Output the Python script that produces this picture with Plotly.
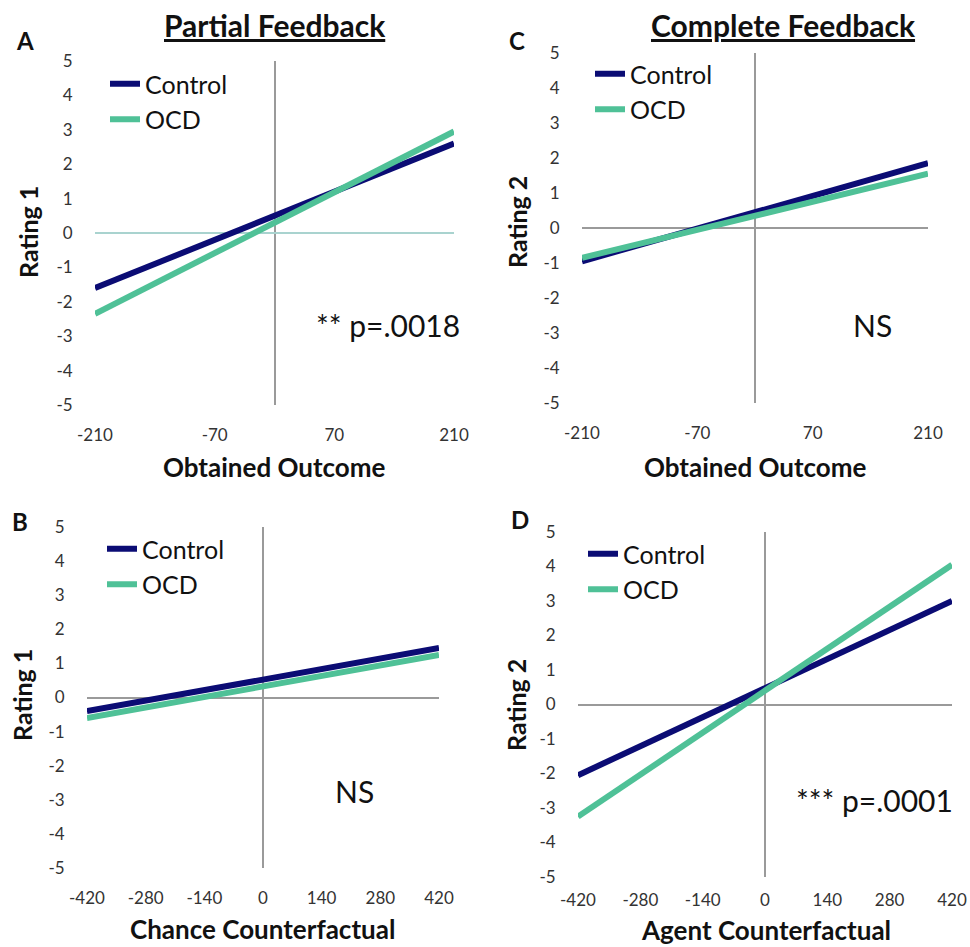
import plotly.graph_objects as go

# ---- data ----
x_outcome = [-210, 210]
x_counter = [-420, 420]
a_control = [-1.6, 2.6]
a_ocd = [-2.35, 2.95]
c_control = [-0.95, 1.85]
c_ocd = [-0.85, 1.55]
b_control = [-0.4, 1.45]
b_ocd = [-0.6, 1.25]
d_control = [-2.05, 3.0]
d_ocd = [-3.25, 4.05]

y_ticks = [-5, -4, -3, -2, -1, 0, 1, 2, 3, 4, 5]
y_ticktext = ["-5", "-4", "-3", "-2", "-1", "0", "1", "2", "3", "4", "5"]
x_outcome_ticks = [-210, -70, 70, 210]
x_outcome_text = ["-210", "-70", "70", "210"]
x_counter_ticks = [-420, -280, -140, 0, 140, 280, 420]
x_counter_text = ["-420", "-280", "-140", "0", "140", "280", "420"]

W, H = 970, 947
NAVY = "#0b0c74"
TEAL = "#4fc197"
FONT = "Lato"

def dx(l, r):
    return [l / W, r / W]

def dy(top, bottom):
    return [1 - bottom / H, 1 - top / H]

fig = go.Figure()

panels = [
    ("", x_outcome, a_control, a_ocd, "legend"),
    ("2", x_outcome, c_control, c_ocd, "legend2"),
    ("3", x_counter, b_control, b_ocd, "legend3"),
    ("4", x_counter, d_control, d_ocd, "legend4"),
]

for suf, xd, ctl, ocd, leg in panels:
    fig.add_trace(go.Scatter(x=xd, y=ctl, mode="lines", name="Control",
                             line=dict(color=NAVY, width=6),
                             xaxis="x" + suf, yaxis="y" + suf, legend=leg))
    fig.add_trace(go.Scatter(x=xd, y=ocd, mode="lines", name="OCD",
                             line=dict(color=TEAL, width=6),
                             xaxis="x" + suf, yaxis="y" + suf, legend=leg))

# l, r, top, bottom, x range, ticks, ticktext, zero-line colour, x ticklen
geom = {
    "": (95, 454, 61, 405, x_outcome, x_outcome_ticks, x_outcome_text, "#a9d3cf", 15),
    "2": (582, 928, 53, 403, x_outcome, x_outcome_ticks, x_outcome_text, "#9a9a9a", 15),
    "3": (87, 439, 527, 868, x_counter, x_counter_ticks, x_counter_text, "#9a9a9a", 15),
    "4": (578, 952, 532, 877, x_counter, x_counter_ticks, x_counter_text, "#9a9a9a", 8),
}

layout = {}
for suf, (l, r, t, b, xd, xt, xtt, hcol, xtl) in geom.items():
    layout["xaxis" + suf] = dict(
        domain=dx(l, r), range=[xd[0], xd[1]], anchor="y" + suf,
        tickvals=xt, ticktext=xtt, showgrid=False, showline=False,
        zeroline=True, zerolinecolor="#9a9a9a", zerolinewidth=1.5,
        ticks="outside", ticklen=xtl, tickcolor="rgba(0,0,0,0)",
        tickfont=dict(family=FONT, size=17, color="#333333"),
        automargin=False,
    )
    layout["yaxis" + suf] = dict(
        domain=dy(t, b), range=[-5, 5], anchor="x" + suf,
        tickvals=y_ticks, ticktext=y_ticktext, showgrid=False, showline=False,
        zeroline=True, zerolinecolor=hcol, zerolinewidth=1.5,
        ticks="outside", ticklen=18, tickcolor="rgba(0,0,0,0)",
        tickfont=dict(family=FONT, size=17, color="#333333"),
        automargin=False,
    )

leg_pos = {
    "legend": (105, 61),
    "legend2": (590, 51),
    "legend3": (102, 526),
    "legend4": (583, 531),
}
for k, (px, py) in leg_pos.items():
    layout[k] = dict(x=px / W, y=1 - py / H, xanchor="left", yanchor="top",
                     bgcolor="rgba(0,0,0,0)", borderwidth=0,
                     font=dict(family=FONT, size=25, color="#111111"),
                     tracegroupgap=0, itemwidth=30)

fig.update_layout(template="none", width=W, height=H,
                  margin=dict(l=0, r=0, t=0, b=0, autoexpand=False),
                  paper_bgcolor="white", plot_bgcolor="white",
                  showlegend=True, **layout)

def ann(text, x, y, size, bold=False, angle=0, color="#111111"):
    if bold:
        text = "<b>" + text + "</b>"
    fig.add_annotation(text=text, x=x / W, y=1 - y / H, xref="paper", yref="paper",
                       showarrow=False, xanchor="center", yanchor="middle",
                       textangle=angle,
                       font=dict(family=FONT, size=size, color=color))

ann("A", 25, 41, 24, bold=True)
ann("C", 517, 41, 24, bold=True)
ann("B", 20, 521, 24, bold=True)
ann("D", 520, 519, 24, bold=True)
ann("<u>Partial Feedback</u>", 275, 25, 30, bold=True)
ann("<u>Complete Feedback</u>", 783, 25, 30, bold=True)
ann("Obtained Outcome", 274, 467, 26, bold=True)
ann("Obtained Outcome", 755, 467, 26, bold=True)
ann("Chance Counterfactual", 262, 929, 26, bold=True)
ann("Agent Counterfactual", 766, 930, 26, bold=True)
ann("Rating 1", 28, 232, 25, bold=True, angle=-90)
ann("Rating 2", 517, 222, 25, bold=True, angle=-90)
ann("Rating 1", 22, 695, 25, bold=True, angle=-90)
ann("Rating 2", 516, 705, 25, bold=True, angle=-90)
ann("** p=.0018", 388, 325, 30)
ann("NS", 872, 325, 30)
ann("NS", 354, 791, 30)
ann("*** p=.0001", 874, 800, 30)

fig.write_html("out.html", config={"displayModeBar": False},
               post_script="document.body.style.margin='0';"
                           "document.body.style.overflow='hidden';")
